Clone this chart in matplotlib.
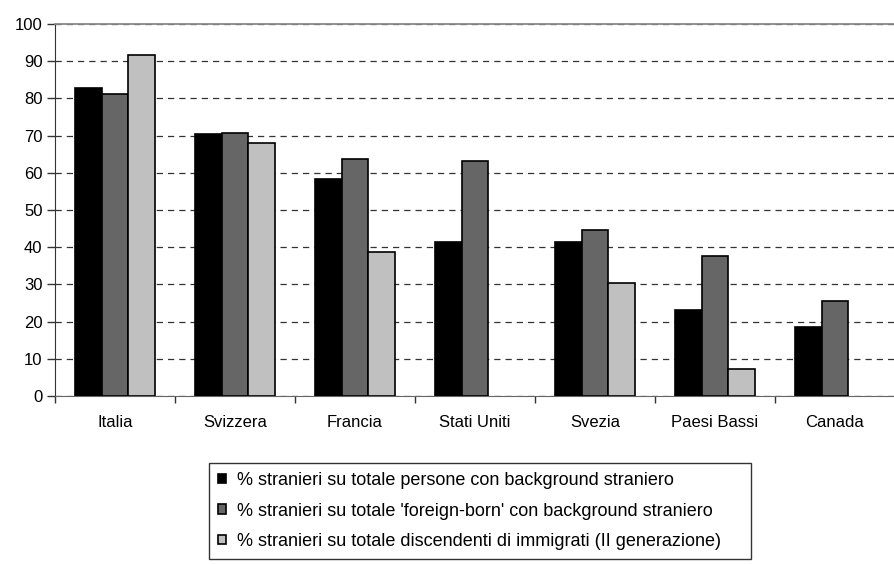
import numpy as np
import matplotlib.pyplot as plt

plt.rcParams['font.family'] = ['Liberation Sans', 'DejaVu Sans']

paesi = ['Italia', 'Svizzera', 'Francia', 'Stati Uniti', 'Svezia', 'Paesi Bassi', 'Canada']
totale_background = [82.8, 70.3, 58.2, 41.5, 41.5, 23.2, 18.5]
foreign_born = [81.1, 70.6, 63.8, 63.3, 44.6, 37.7, 25.6]
seconda_gen = [91.6, 68.0, 38.6, np.nan, 30.4, 7.3, np.nan]

etichette = ["% stranieri su totale persone con background straniero",
             "% stranieri su totale 'foreign-born' con background straniero",
             "% stranieri su totale discendenti di immigrati (II generazione)"]
colori = ['#000000', '#666666', '#c0c0c0']

fig = plt.figure(figsize=(8.95, 5.64), dpi=100)
ax = fig.add_axes([55/895, 168/564, 840/895, 372/564])

x = np.arange(len(paesi))
w = 0.224
for i, (serie, col, lab) in enumerate(zip([totale_background, foreign_born, seconda_gen], colori, etichette)):
    ax.bar(x + (i - 1) * w, serie, w, color=col, edgecolor='black', linewidth=1.2,
           label=lab, zorder=3)

ax.set_xlim(-0.5, len(paesi) - 0.5)
ax.set_ylim(0, 100)
ax.set_yticks(range(0, 101, 10))
ax.yaxis.grid(True, linestyle=(0, (5, 4)), color='#333333', linewidth=0.9, zorder=0)
ax.set_xticks(x)
ax.set_xticklabels(paesi, fontsize=12)
ax.set_xticks(np.arange(-0.5, len(paesi)), minor=True)
ax.tick_params(axis='x', which='major', length=0, pad=14)
ax.tick_params(axis='x', which='minor', length=5, width=1, color='#333333')
ax.tick_params(axis='y', length=6, width=1, labelsize=12, pad=3, color='#333333')

ax.spines['top'].set_color('#888888')
ax.spines['top'].set_linewidth(1.3)
ax.spines['right'].set_visible(False)
ax.spines['left'].set_color('#333333')
ax.spines['bottom'].set_color('#666666')

leg = fig.legend(loc='upper left', bbox_to_anchor=(209/895, 0, 542/895, 1 - 463/564),
                 mode='expand', fontsize=13, frameon=True, fancybox=False, edgecolor='black',
                 handlelength=0.42, handleheight=0.42, handletextpad=0.65,
                 labelspacing=0.75, borderpad=0.5, borderaxespad=0)
leg.get_frame().set_linewidth(1.0)

fig.savefig('out.png', dpi=100)
